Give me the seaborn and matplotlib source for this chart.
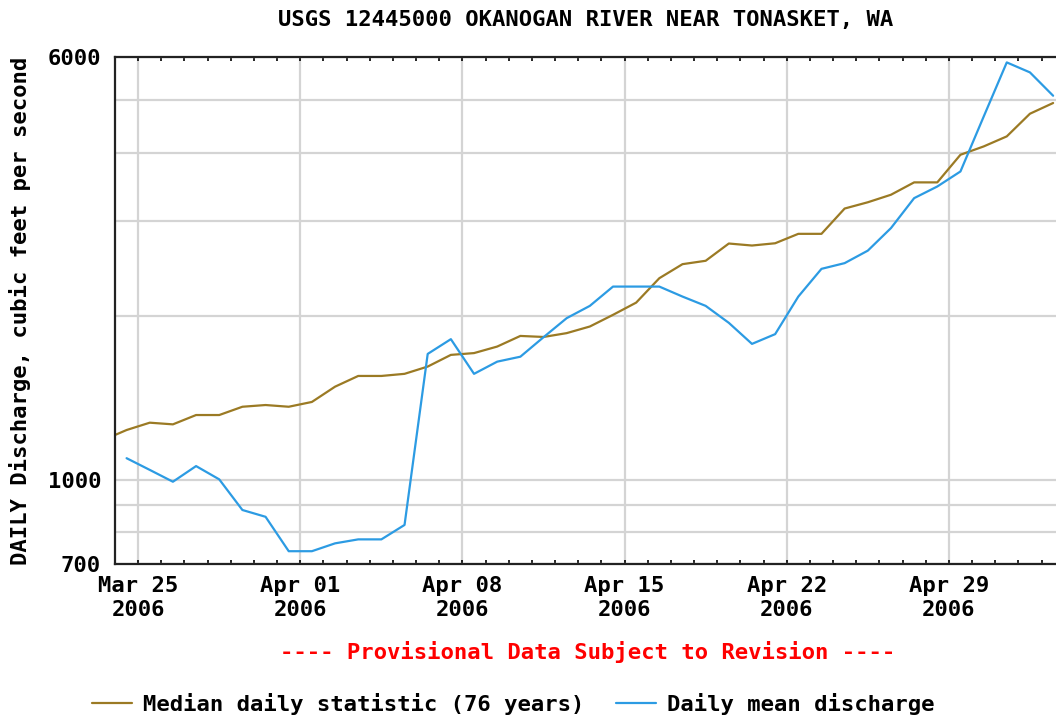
import pandas as pd
import numpy as np
import seaborn as sns
import matplotlib.pyplot as plt
import matplotlib.dates as mdates
from matplotlib.ticker import FixedLocator, NullFormatter

# Data (cfs, one value per day, plotted at noon)

median_start = '2006-03-23 12:00'
median_cfs = [1184, 1235, 1274, 1265, 1316, 1316, 1363, 1373, 1363, 1391,
              1484, 1553, 1553, 1567, 1616, 1698, 1711, 1759, 1840, 1832,
              1862, 1915, 2012, 2119, 2350, 2494, 2530, 2722, 2699, 2725,
              2836, 2836, 3157, 3242, 3347, 3527, 3527, 3965, 4107, 4286,
              4718, 4937]

mean_start = '2006-03-24 12:00'
mean_cfs = [1096, 1043, 992, 1060, 1002, 880, 855, 739, 739, 764,
            777, 777, 826, 1705, 1815, 1567, 1650, 1685, 1830, 1984,
            2090, 2268, 2268, 2268, 2174, 2090, 1945, 1779, 1854, 2174,
            2445, 2505, 2641, 2906, 3299, 3466, 3694, 4658, 5864, 5621,
            5092]

week_ticks = ['2006-03-25', '2006-04-01', '2006-04-08', '2006-04-15',
              '2006-04-22', '2006-04-29']
y_labels = [700, 1000, 6000]
y_grid = [800, 900, 2000, 3000, 4000, 5000]

median_name = 'Median daily statistic (76 years)'
mean_name = 'Daily mean discharge'

# Build a long table for seaborn

med = pd.DataFrame({'date': pd.date_range(median_start, periods=len(median_cfs), freq='D'),
                    'cfs': median_cfs, 'series': median_name})
mean = pd.DataFrame({'date': pd.date_range(mean_start, periods=len(mean_cfs), freq='D'),
                     'cfs': mean_cfs, 'series': mean_name})
df = pd.concat([med, mean], ignore_index=True)

# Style

sns.set_style('white')
plt.rcParams['font.family'] = ['DejaVu Sans Mono', 'DejaVu Sans']
plt.rcParams['font.weight'] = 'bold'
plt.rcParams['text.color'] = 'black'
plt.rcParams['xtick.color'] = 'black'
plt.rcParams['ytick.color'] = 'black'
plt.rcParams['axes.labelcolor'] = 'black'
fs = 16

fig = plt.figure(figsize=(10.56, 7.15), dpi=100)
ax = fig.add_axes([115 / 1056, 1 - 564 / 715, 941 / 1056, 507 / 715])

palette = {median_name: '#9B7A24', mean_name: '#2C9BE3'}
sns.lineplot(data=df, x='date', y='cfs', hue='series', palette=palette,
             linewidth=1.6, ax=ax, legend=True)

ax.set_yscale('log')
ax.set_ylim(700, 6000)
ax.yaxis.set_major_locator(FixedLocator(y_labels))
ax.yaxis.set_minor_locator(FixedLocator(y_grid))
ax.yaxis.set_minor_formatter(NullFormatter())
ax.set_yticklabels([str(v) for v in y_labels])

ax.set_xlim(pd.Timestamp('2006-03-24 00:00'), pd.Timestamp('2006-05-03 15:00'))
ax.xaxis.set_major_locator(FixedLocator(mdates.date2num(pd.to_datetime(week_ticks))))
ax.xaxis.set_minor_locator(mdates.DayLocator())
ax.set_xticklabels([pd.Timestamp(d).strftime('%b %d\n%Y') for d in week_ticks])

ax.grid(True, which='major', color='#d4d4d4', linewidth=1.6)
ax.grid(True, which='minor', axis='y', color='#d4d4d4', linewidth=1.6)
ax.set_axisbelow(True)

ax.tick_params(axis='y', which='both', length=0, pad=10, labelsize=fs)
ax.tick_params(axis='x', which='both', direction='in', top=True, bottom=True,
               length=3, width=1.2, color='black', pad=9, labelsize=fs)
for lbl in ax.get_xticklabels() + ax.get_yticklabels():
    lbl.set_fontweight('bold')

for side in ['left', 'top', 'bottom']:
    ax.spines[side].set_color('#222222')
    ax.spines[side].set_linewidth(1.6)
ax.spines['right'].set_visible(False)

ax.set_xlabel('')
ax.set_ylabel('DAILY Discharge, cubic feet per second', fontsize=fs,
              fontweight='bold', labelpad=12)

fig.text(0.555, 1 - 20 / 715, 'USGS 12445000 OKANOGAN RIVER NEAR TONASKET, WA',
         ha='center', va='center', fontsize=fs, fontweight='bold')
fig.text(0.556, 1 - 652 / 715, '---- Provisional Data Subject to Revision ----',
         ha='center', va='center', fontsize=fs, fontweight='bold', color='#ff0000')

# Legend below the chart

handles, labels = ax.get_legend_handles_labels()
ax.get_legend().remove()
fig.legend(handles, labels, loc='center', bbox_to_anchor=(0.486, 1 - 704 / 715),
           ncol=2, frameon=False, handlelength=1.8,
           handletextpad=0.5, columnspacing=1.4, prop={'weight': 'bold', 'size': fs})

plt.savefig('out.png', dpi=100)
